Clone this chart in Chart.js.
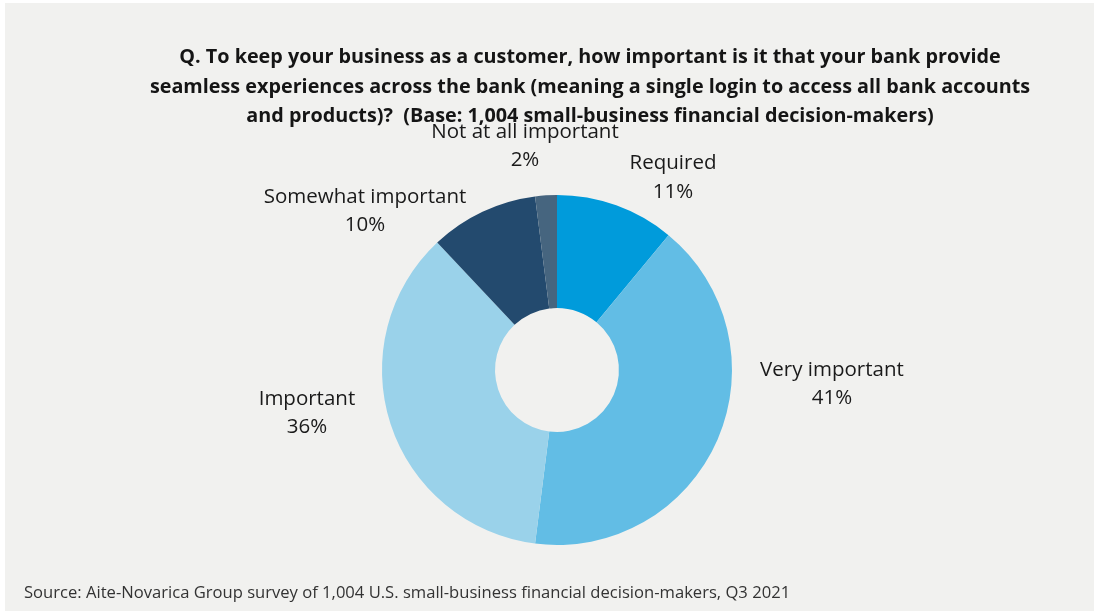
<!DOCTYPE html>
<html>
<head>
<meta charset="utf-8">
<script src="https://cdn.jsdelivr.net/npm/chart.js@4"></script>
<style>
  body { margin: 0; background: #fff; font-family: "Open Sans", sans-serif; }
  #panel { position: absolute; left: 5px; top: 3px; width: 1089px; height: 608px; background: #f1f1ef; }
  #title { position: absolute; left: 80px; width: 1010px; top: 38px; text-align: center;
           font-weight: bold; font-size: 19.8px; line-height: 29.5px; color: #151515; }
  #source { position: absolute; left: 19px; top: 577px; font-size: 16.6px; color: #333; }
  canvas { position: absolute; left: 0; top: 0; }
</style>
</head>
<body>
<div id="panel">
  <canvas id="donut" width="1089" height="608"></canvas>
  <div id="title">Q. To keep your business as a customer, how important is it that your bank provide<br>
    seamless experiences across the bank (meaning a single login to access all bank accounts<br>
    and products)?&nbsp; (Base: 1,004 small-business financial decision-makers)</div>
  <div id="source">Source: Aite-Novarica Group survey of 1,004 U.S. small-business financial decision-makers, Q3 2021</div>
</div>
<script>
const categories = ["Required", "Very important", "Important", "Somewhat important", "Not at all important"];
const shares = [11, 41, 36, 10, 2];
const colors = ["#009bdb", "#62bde5", "#9ad2ea", "#234a6e", "#46657f"];

// where each label sits, in units of the outer radius from the centre
const labelSpots = [[0.663, -1.098], [1.571, 0.08], [-1.429, 0.245], [-1.097, -0.909], [-0.183, -1.28]];

const sliceLabels = {
  id: "sliceLabels",
  afterDraw(chart) {
    const ctx = chart.ctx;
    const arcs = chart.getDatasetMeta(0).data;
    ctx.save();
    ctx.font = "20.5px 'Open Sans'";
    ctx.fillStyle = "#1a1a1a";
    ctx.textAlign = "center";
    ctx.textBaseline = "middle";
    arcs.forEach((arc, i) => {
      const r = arc.outerRadius;
      const x = arc.x + labelSpots[i][0] * r;
      const y = arc.y + labelSpots[i][1] * r;
      ctx.fillText(categories[i], x, y - 14.2);
      ctx.fillText(shares[i] + "%", x, y + 14.2);
    });
    ctx.restore();
  }
};

new Chart(document.getElementById("donut"), {
  type: "doughnut",
  data: {
    labels: categories,
    datasets: [{
      data: shares,
      backgroundColor: colors,
      borderWidth: 0
    }]
  },
  options: {
    responsive: false,
    animation: false,
    cutout: "35.4%",
    layout: { padding: { left: 200, right: 185, top: 192, bottom: 66 } },
    plugins: { legend: { display: false }, tooltip: { enabled: false } }
  },
  plugins: [sliceLabels]
});
</script>
</body>
</html>
